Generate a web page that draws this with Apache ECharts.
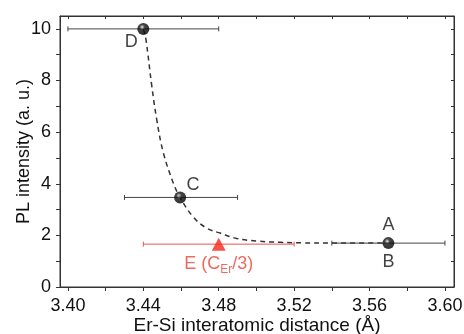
<!DOCTYPE html>
<html>
<head>
<meta charset="utf-8">
<script src="https://cdn.jsdelivr.net/npm/echarts@6/dist/echarts.min.js"></script>
<style>html,body{margin:0;padding:0;background:#fff}#c{width:464px;height:334px}</style>
</head>
<body>
<div id="c"></div>
<script>
// Black points (D, C, A/B)
const blackNames = ['D', 'C', 'A'];
const blackX = [3.440, 3.4595, 3.570];
const blackY = [10.0, 3.47, 1.70];
const blackErrLo = [3.400, 3.430, 3.540];
const blackErrHi = [3.480, 3.490, 3.600];
// Red point E
const redX = [3.480];
const redY = [1.66];
const redErrLo = [3.440];
const redErrHi = [3.520];
// Dashed guide curve
const curveX = [3.440, 3.4414, 3.4445, 3.4471, 3.4506, 3.4559, 3.4595, 3.4664, 3.4736, 3.4807, 3.4896, 3.5002, 3.5126, 3.5247, 3.5373, 3.570];
const curveY = [10.0, 9.58, 7.78, 6.49, 5.21, 4.03, 3.47, 2.72, 2.28, 2.09, 1.88, 1.78, 1.73, 1.71, 1.70, 1.70];
// Ticks
const xLabelVals = [3.40, 3.44, 3.48, 3.52, 3.56, 3.60];
const xTickVals = [3.40, 3.42, 3.44, 3.46, 3.48, 3.50, 3.52, 3.54, 3.56, 3.58, 3.60];
const yLabelVals = [0, 2, 4, 6, 8, 10];
const yTickVals = [0, 1, 2, 3, 4, 5, 6, 7, 8, 9, 10];

const FONT = 'Liberation Sans, Arial, sans-serif';
const axisCol = '#333';
const textCol = '#111';

function errItem(color) {
  return function (params, api) {
    const y = api.value(1), lo = api.value(2), hi = api.value(3);
    const p1 = api.coord([lo, y]), p2 = api.coord([hi, y]);
    const st = { stroke: color, lineWidth: 1 };
    return {
      type: 'group', children: [
        { type: 'line', shape: { x1: p1[0], y1: p1[1], x2: p2[0], y2: p2[1] }, style: st },
        { type: 'line', shape: { x1: p1[0], y1: p1[1] - 2.5, x2: p1[0], y2: p1[1] + 2.5 }, style: st },
        { type: 'line', shape: { x1: p2[0], y1: p2[1] - 2.5, x2: p2[0], y2: p2[1] + 2.5 }, style: st }
      ]
    };
  };
}

const sphere = {
  type: 'radial', x: 0.4, y: 0.35, r: 0.62,
  colorStops: [{ offset: 0, color: '#f0f0f0' }, { offset: 0.12, color: '#9a9a9a' }, { offset: 0.35, color: '#151515' }, { offset: 1, color: '#000' }]
};

const labelOffsets = { D: [-12, 13], C: [13, -12], A: [0, -18] };

const X_MIN = 3.3958, X_MAX = 3.6048;

function mkX(pos, inside, showLabel, showName) {
  return {
    type: 'value', position: pos, min: X_MIN, max: X_MAX,
    name: showName ? 'Er-Si interatomic distance (Å)' : '', nameLocation: 'middle', nameGap: 29,
    nameMoveOverlap: false,
    nameTextStyle: { fontFamily: FONT, fontSize: 19, color: textCol },
    axisLine: { show: true, onZero: false, lineStyle: { color: axisCol, width: 1 } },
    axisTick: { show: true, inside: inside, length: inside ? 3 : 4, customValues: xTickVals, lineStyle: { color: axisCol } },
    axisLabel: { show: showLabel, customValues: xLabelVals, fontFamily: FONT, fontSize: 18, color: textCol, margin: 10,
      formatter: v => v.toFixed(2) },
    splitLine: { show: false }
  };
}
function mkY(pos, inside, showLabel, showName) {
  return {
    type: 'value', position: pos, min: 0, max: 10.5,
    name: showName ? 'PL intensity (a. u.)' : '', nameLocation: 'middle', nameGap: 27,
    nameMoveOverlap: false,
    nameTextStyle: { fontFamily: FONT, fontSize: 18, color: textCol },
    axisLine: { show: true, onZero: false, lineStyle: { color: axisCol, width: 1 } },
    axisTick: { show: true, inside: inside, length: inside ? 3 : 4, customValues: yTickVals, lineStyle: { color: axisCol } },
    axisLabel: { show: showLabel, customValues: yLabelVals, fontFamily: FONT, fontSize: 18, color: textCol, margin: 9 },
    splitLine: { show: false }
  };
}

const chart = echarts.init(document.getElementById('c'), null, { renderer: 'canvas' });
chart.setOption({
  animation: false,
  backgroundColor: '#fff',
  grid: { left: 60, right: 10, top: 16, bottom: 47, containLabel: false, outerBoundsMode: 'none',
    show: true, borderColor: axisCol, borderWidth: 1, backgroundColor: 'transparent' },
  xAxis: [mkX('bottom', false, true, true), mkX('top', true, false, false)],
  yAxis: [mkY('left', false, true, true), mkY('right', true, false, false)],
  series: [
    {
      type: 'scatter', xAxisIndex: 1, yAxisIndex: 1, data: [[3.5, 5]], symbolSize: 0, silent: true,
      itemStyle: { opacity: 0 }
    },
    {
      type: 'line', xAxisIndex: 0, yAxisIndex: 0, smooth: 0.4, symbol: 'none',
      data: curveX.map((x, i) => [x, curveY[i]]),
      lineStyle: { color: '#333', width: 1.5, type: [5, 4] }, z: 2
    },
    {
      type: 'custom', xAxisIndex: 0, yAxisIndex: 0, renderItem: errItem('#444'),
      data: blackX.map((x, i) => [x, blackY[i], blackErrLo[i], blackErrHi[i]]), z: 3
    },
    {
      type: 'custom', xAxisIndex: 0, yAxisIndex: 0, renderItem: errItem('#e8564a'),
      data: redX.map((x, i) => [x, redY[i], redErrLo[i], redErrHi[i]]), z: 3
    },
    {
      type: 'scatter', xAxisIndex: 0, yAxisIndex: 0, symbol: 'circle', symbolSize: 12,
      itemStyle: { color: sphere },
      data: blackX.map((x, i) => ({
        value: [x, blackY[i]], name: blackNames[i],
        label: { show: true, formatter: blackNames[i], position: 'inside', offset: labelOffsets[blackNames[i]],
          fontFamily: FONT, fontSize: 18, color: textCol }
      })),
      z: 5
    },
    {
      type: 'scatter', xAxisIndex: 0, yAxisIndex: 0, symbol: 'circle', symbolSize: 1,
      itemStyle: { color: 'rgba(0,0,0,0)' },
      data: [{ value: [blackX[2], blackY[2]], label: { show: true, formatter: 'B', position: 'inside', offset: [0, 19],
        fontFamily: FONT, fontSize: 18, color: textCol } }],
      z: 5
    },
    {
      type: 'scatter', xAxisIndex: 0, yAxisIndex: 0, symbol: 'triangle', symbolSize: [14, 13],
      itemStyle: { color: '#f5281c' },
      data: redX.map((x, i) => [x, redY[i]]),
      label: {
        show: true, position: 'inside', offset: [0, 20],
        formatter: 'E (C{s|Er}/3)',
        fontFamily: FONT, fontSize: 18, color: '#e8453a',
        rich: { s: { fontFamily: FONT, fontSize: 12, color: '#e8453a', verticalAlign: 'bottom', padding: [11, 0, 0, 0] } }
      },
      z: 6
    }
  ]
});
</script>
</body>
</html>
